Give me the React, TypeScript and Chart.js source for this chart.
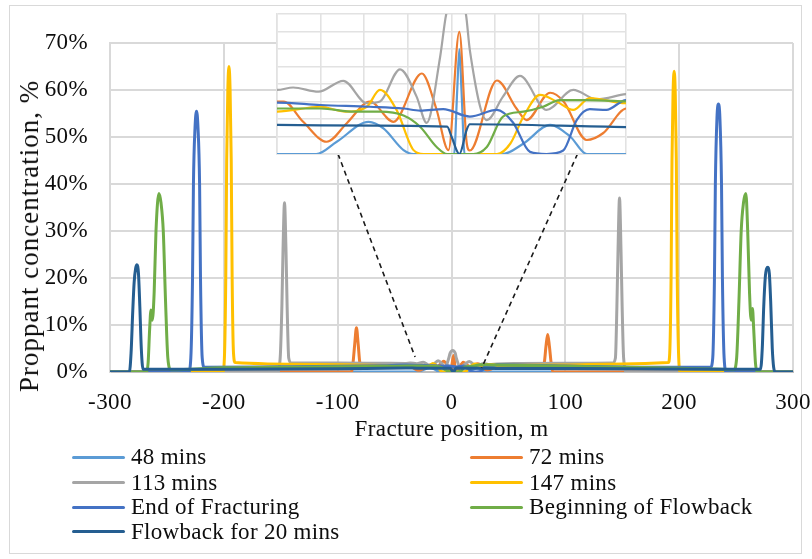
import React, { useEffect, useRef } from 'react';
import { Chart, registerables } from 'chart.js';

Chart.register(...registerables);

const FONT = "'Liberation Serif', 'Times New Roman', Times, serif";
const TEXT = '#0d0d0d';

// ---------- data (fracture position in m, proppant concentration in %) ----------
const x48 = [-300, -40, -31, -26.3, -19, -15.6, -11, -8.7, -1, 0.6, 1.3, 1.8, 2.3, 3.0, 4.2, 11.8, 16.5, 22.6, 27.2, 31, 40, 300];
const y48 = [0, 0, 0, 0.35, 0.92, 0.73, 0.11, 0, 0, 0, 1.8, 3.0, 1.8, 0, 0, 0, 0.3, 0.83, 0.5, 0, 0, 0];

const x72 = [-300, -88, -86.5, -85, -83.5, -82, -80.5, -79, -60, -40, -38.5, -34, -28.6, -24, -18.7, -13.3, -6.8, -3.5, -0.7, 1.8, 3.5, 4.2, 10.4, 14.9, 17.2, 22.6, 25.7, 31, 34.8, 40, 60, 80, 81.5, 83, 84.5, 86, 87.5, 89, 300];
const y72 = [0, 0, 2, 6, 9.4, 6, 2, 1.5, 1.5, 1.5, 1.5, 0.92, 0.35, 0.88, 1.5, 0.92, 2.3, 1.3, 0.11, 3.49, 0.3, 0.1, 2.1, 1.3, 0.97, 1.75, 1.5, 0.4, 0.6, 1.3, 1.4, 1.5, 2, 5.5, 8, 5.5, 2, 0, 0];

const x113 = [-300, -153, -150.5, -149, -148, -146.7, -145.4, -144.4, -143, -140.5, -100, -60, -40, -36.3, -30.5, -24.8, -19.4, -16.4, -11.8, -8, -5.7, -2.6, -1.2, 1.0, 3.3, 4.2, 8.1, 11.8, 15.7, 21.8, 27.9, 33.3, 40, 60, 100, 141.5, 144, 145.3, 146.3, 147.6, 148.9, 149.9, 151.2, 154, 300];
const y113 = [0, 0, 3, 14, 26, 36, 26, 14, 3, 1.9, 1.9, 1.85, 1.83, 1.9, 1.78, 2.09, 1.45, 1.5, 2.42, 1.64, 0.89, 2.78, 4.0, 4.6, 4.0, 2.97, 0.97, 1.64, 2.23, 1.26, 1.83, 1.56, 1.71, 1.8, 1.85, 1.9, 3, 14, 26, 37, 26, 14, 3, 0, 0];

const x147 = [-300, -201, -199.5, -198.3, -197.5, -196.5, -195.5, -194.5, -193.5, -192.7, -191.5, -190, -120, -60, -40, -30, -24.3, -19.4, -16.4, -12.6, -8.7, -6.4, 10.4, 13.5, 16.5, 20.3, 24.1, 27.9, 31.7, 40, 100, 150, 190.5, 191.7, 192.9, 193.7, 194.6, 195.6, 196.6, 197.5, 198.3, 199.6, 201, 300];
const y147 = [0, 0, 3, 20, 45, 60, 65, 60, 45, 20, 4, 2.0, 1.6, 1.4, 1.21, 1.35, 1.21, 1.35, 1.83, 1.26, 0.11, 0, 0, 0.3, 1.07, 1.69, 1.5, 1.26, 1.6, 1.45, 1.5, 1.7, 2.0, 4, 20, 45, 59, 64, 59, 45, 20, 3, 0, 0];

const xEnd = [-300, -231, -229, -227.5, -226.7, -225.3, -224, -222.7, -221.3, -220.5, -219, -217, -150, -100, -60, -40, -30, -18.7, -11, -7.2, -1.9, 4.2, 10.4, 14.1, 18, 21.8, 25.6, 28.7, 31.7, 35.5, 40, 100, 180, 227.5, 229.5, 231, 231.8, 233.2, 234.5, 235.8, 237.2, 238, 239.5, 241.5, 300];
const yEnd = [0, 0, 3, 20, 40, 52, 55.5, 52, 40, 20, 3, 1.0, 1.1, 1.2, 1.35, 1.47, 1.4, 1.35, 1.3, 1.24, 1.28, 1.07, 1.26, 0.9, 0.06, 0, 0.1, 0.97, 1.28, 1.26, 1.54, 1.3, 1.0, 1.0, 3, 20, 40, 54, 57, 54, 40, 20, 3, 0, 0];

const xBeg = [-300, -268, -266.5, -265.2, -264, -262.8, -261.2, -259.6, -257, -255.2, -253.2, -251.2, -249.2, -246.5, -200, -150, -100, -60, -40, -30, -22.3, -16.4, -11, -7.2, -3.4, -1, 5, 8.1, 11.8, 16.5, 21, 24.8, 31, 40, 100, 150, 200, 248, 250.5, 252.5, 254.5, 256.5, 258.6, 260.2, 261.8, 263.2, 264.4, 265.5, 267, 268.5, 300];
const yBeg = [0, 0, 2, 9, 13.2, 11, 17, 30, 38, 36, 30, 15, 3, 0.5, 0.9, 1.0, 1.1, 1.2, 1.3, 1.3, 1.21, 1.21, 1.1, 0.78, 0.2, 0, 0, 0.2, 1.07, 1.21, 1.35, 1.54, 1.54, 1.5, 1.2, 1.0, 0.8, 0.5, 3, 15, 30, 36, 38, 30, 17, 11, 13.5, 9, 2, 0, 0];

const xFlow = [-300, -283, -281.5, -280, -278.8, -277.5, -276.3, -275, -273.8, -272.5, -271, -200, -100, -40, -30, -1, 0, 1.8, 3.5, 4.2, 40, 150, 250, 271.5, 273, 274.3, 275.6, 276.8, 278, 279.2, 280.4, 281.8, 283, 284.5, 300];
const yFlow = [0, 0, 4, 13, 19, 22, 22.8, 21, 14, 5, 0.6, 0.6, 0.7, 0.83, 0.82, 0.78, 0.5, 0, 0.7, 0.85, 0.77, 0.7, 0.6, 0.6, 5, 14, 20, 22, 22.3, 21, 15, 5, 1, 0, 0];

// zoom guide lines (from inset down to the centre of the fracture)
const guideLeftX = [-99.7, -32];
const guideLeftY = [46.4, 3.2];
const guideRightX = [110.7, 26.5];
const guideRightY = [46.4, 0.85];

const seriesNames = ['48 mins', '72 mins', '113 mins', '147 mins', 'End of Fracturing', 'Beginning of Flowback', 'Flowback for 20 mins'];
const seriesColors = ['#5B9BD5', '#ED7D31', '#A5A5A5', '#FFC000', '#4472C4', '#70AD47', '#255E91'];
const seriesX = [x48, x72, x113, x147, xEnd, xBeg, xFlow];
const seriesY = [y48, y72, y113, y147, yEnd, yBeg, yFlow];

// axes
const xAxisMin = -300;
const xAxisMax = 300;
const xAxisStep = 100;
const yAxisMin = 0;
const yAxisMax = 70;
const yAxisStep = 10;
const insetXMin = -40;
const insetXMax = 40;
const insetXStep = 10;
const insetYMin = 0;
const insetYMax = 4;
const insetYStep = 0.5;

const xTitle = 'Fracture position, m';
const yTitle = 'Proppant concentration, %';

function toPoints(xs: number[], ys: number[]) {
  return xs.map((x, i) => ({ x, y: ys[i] }));
}

function seriesDatasets(width: number) {
  return seriesNames.map((name, i) => ({
    label: name,
    data: toPoints(seriesX[i], seriesY[i]),
    borderColor: seriesColors[i],
    backgroundColor: seriesColors[i],
    borderWidth: width,
    pointRadius: 0,
    pointHoverRadius: 0,
    fill: false,
    cubicInterpolationMode: 'monotone' as const,
    borderJoinStyle: 'round' as const,
    borderCapStyle: 'round' as const,
    order: seriesNames.length - i,
  }));
}

const LETTER_SPACING = '0.4px';
const spacingPlugin = {
  id: 'letterSpacing',
  beforeLayout(chart: any) {
    chart.ctx.letterSpacing = LETTER_SPACING;
  },
  beforeDraw(chart: any) {
    chart.ctx.letterSpacing = LETTER_SPACING;
  },
};

export default function App() {
  const mainRef = useRef<HTMLCanvasElement | null>(null);
  const insetRef = useRef<HTMLCanvasElement | null>(null);

  useEffect(() => {
    if (!mainRef.current || !insetRef.current) return;
    const gridColor = '#d9d9d9';
    const tickFont = { family: FONT, size: 23 };

    const guide = (xs: number[], ys: number[]) => ({
      label: 'guide',
      data: toPoints(xs, ys),
      borderColor: '#1a1a1a',
      borderWidth: 1.6,
      borderDash: [5, 4],
      pointRadius: 0,
      tension: 0,
      fill: false,
      order: 0,
    });

    const main = new Chart(mainRef.current, {
      type: 'line',
      data: {
        datasets: [...seriesDatasets(3), guide(guideLeftX, guideLeftY), guide(guideRightX, guideRightY)] as any,
      },
      options: {
        animation: false,
        responsive: false,
        events: [],
        layout: { padding: { left: 10, top: 43, right: 19, bottom: 115 } },
        plugins: { legend: { display: false }, tooltip: { enabled: false } },
        scales: {
          x: {
            type: 'linear',
            min: xAxisMin,
            max: xAxisMax,
            afterFit: (s: any) => {
              s.height = 72;
            },
            ticks: { stepSize: xAxisStep, padding: 0, color: TEXT, font: tickFont, maxRotation: 0, autoSkip: false },
            grid: { color: gridColor, lineWidth: 2, drawTicks: true, tickLength: 17, tickColor: 'rgba(0,0,0,0)' },
            border: { color: '#bfbfbf', width: 2 },
            title: { display: true, text: xTitle, color: TEXT, font: tickFont, padding: { top: 0, bottom: 0 } },
          },
          y: {
            type: 'linear',
            min: yAxisMin,
            max: yAxisMax,
            afterFit: (s: any) => {
              s.width = 100;
            },
            ticks: { stepSize: yAxisStep, padding: 22, color: TEXT, font: tickFont, callback: (v: any) => `${v}%` },
            grid: { color: gridColor, lineWidth: 2, drawTicks: false },
            border: { color: gridColor, width: 2 },
          },
        },
      } as any,
      plugins: [spacingPlugin],
    });

    const insetGrid = '#e2e2e2';
    const inset = new Chart(insetRef.current, {
      type: 'line',
      data: { datasets: seriesDatasets(2.2) as any },
      options: {
        animation: false,
        responsive: false,
        events: [],
        layout: { padding: 1 },
        plugins: { legend: { display: false }, tooltip: { enabled: false } },
        scales: {
          x: {
            type: 'linear',
            min: insetXMin,
            max: insetXMax,
            ticks: { display: false, stepSize: insetXStep },
            grid: { color: insetGrid, lineWidth: 1.6, drawTicks: false },
            border: { color: insetGrid, width: 1.6 },
          },
          y: {
            type: 'linear',
            min: insetYMin,
            max: insetYMax,
            ticks: { display: false, stepSize: insetYStep },
            grid: { color: insetGrid, lineWidth: 1.6, drawTicks: false },
            border: { color: insetGrid, width: 1.6 },
          },
        },
      } as any,
    });

    return () => {
      main.destroy();
      inset.destroy();
    };
  }, []);

  const legendColX = [72, 470];
  const legendRowY = [457, 482.5, 507, 531.5];

  return (
    <div
      style={{
        position: 'fixed',
        left: 0,
        top: 0,
        width: 812,
        height: 559,
        background: '#ffffff',
        fontFamily: FONT,
        color: TEXT,
        overflow: 'hidden',
      }}
    >
      <div
        style={{
          position: 'absolute',
          left: 9,
          top: 5,
          width: 791,
          height: 547,
          border: '1px solid #d9d9d9',
        }}
      />
      <canvas ref={mainRef} width={812} height={559} style={{ position: 'absolute', left: 0, top: 0 }} />
      <canvas
        ref={insetRef}
        width={351}
        height={142}
        style={{ position: 'absolute', left: 276, top: 13, background: '#ffffff' }}
      />
      <div
        style={{
          position: 'absolute',
          left: 28.5,
          top: 236,
          transform: 'translate(-50%, -50%) rotate(-90deg)',
          fontSize: 27,
          lineHeight: '30px',
          whiteSpace: 'nowrap',
          letterSpacing: '1px',
        }}
      >
        {yTitle}
      </div>
      {seriesNames.map((name, i) => {
        const cx = legendColX[i % 2];
        const cy = legendRowY[Math.floor(i / 2)];
        return (
          <React.Fragment key={name}>
            <div
              style={{
                position: 'absolute',
                left: cx,
                top: cy - 1.5,
                width: 53,
                height: 3,
                background: seriesColors[i],
                borderRadius: 1.5,
              }}
            />
            <div
              style={{
                position: 'absolute',
                left: cx + 59,
                top: cy - 14,
                fontSize: 23,
                lineHeight: '28px',
                whiteSpace: 'nowrap',
                letterSpacing: '0.3px',
              }}
            >
              {name}
            </div>
          </React.Fragment>
        );
      })}
    </div>
  );
}
